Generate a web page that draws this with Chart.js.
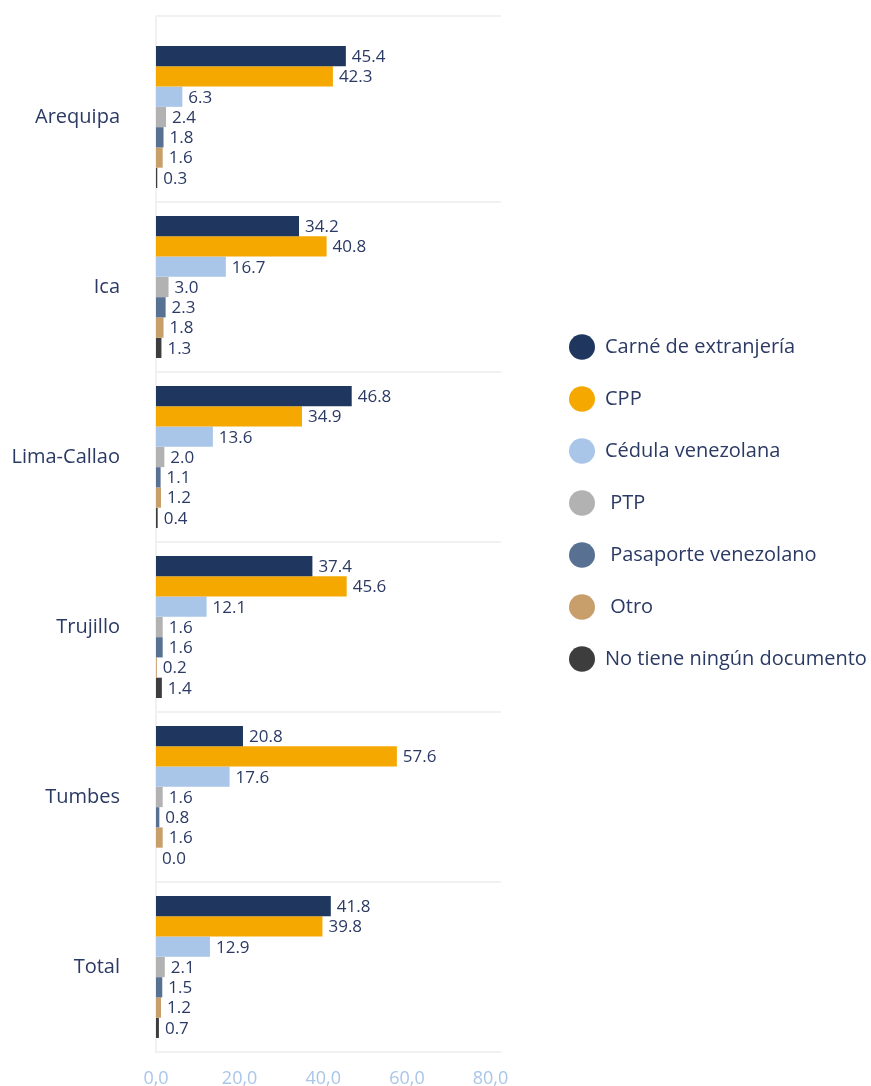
<!DOCTYPE html>
<html lang="es">
<head>
<meta charset="utf-8">
<title>Documento de identidad por ciudad</title>
<script src="https://cdn.jsdelivr.net/npm/chart.js@4.4.1/dist/chart.umd.min.js"></script>
<style>
    html, body { margin: 0; padding: 0; background: #ffffff; }
    #contenedor { width: 871px; height: 1086px; position: relative; }
</style>
</head>
<body>
<div id="contenedor"><canvas id="grafico"></canvas></div>
<script>
// Datos (%) por ciudad
const ciudades = ['Arequipa', 'Ica', 'Lima-Callao', 'Trujillo', 'Tumbes', 'Total'];
const carneExtranjeria = [45.4, 34.2, 46.8, 37.4, 20.8, 41.8];
const cpp = [42.3, 40.8, 34.9, 45.6, 57.6, 39.8];
const cedulaVenezolana = [6.3, 16.7, 13.6, 12.1, 17.6, 12.9];
const ptp = [2.4, 3.0, 2.0, 1.6, 1.6, 2.1];
const pasaporteVenezolano = [1.8, 2.3, 1.1, 1.6, 0.8, 1.5];
const otro = [1.6, 1.8, 1.2, 0.2, 1.6, 1.2];
const sinDocumento = [0.3, 1.3, 0.4, 1.4, 0.0, 0.7];
const ticksX = [0, 20, 40, 60, 80];

const colorTexto = '#2b3a64';
const colorGrilla = '#f1f1f1';
const fuente = 'Open Sans';

// Etiquetas de valor al final de cada barra
const etiquetasValor = {
    id: 'etiquetasValor',
    afterDatasetsDraw(chart) {
        const ctx = chart.ctx;
        ctx.save();
        ctx.font = '17px "' + fuente + '"';
        ctx.fillStyle = colorTexto;
        ctx.textBaseline = 'middle';
        chart.data.datasets.forEach((ds, i) => {
            const meta = chart.getDatasetMeta(i);
            meta.data.forEach((barra, j) => {
                ctx.fillText(ds.data[j].toFixed(1), barra.x + 6, barra.y + 1);
            });
        });
        ctx.restore();
    }
};

// Línea superior del marco (queda por encima del primer grupo)
const marcoSuperior = {
    id: 'marcoSuperior',
    beforeDatasetsDraw(chart) {
        const { ctx, chartArea } = chart;
        ctx.save();
        ctx.strokeStyle = colorGrilla;
        ctx.lineWidth = 2;
        ctx.beginPath();
        ctx.moveTo(chartArea.left, 16);
        ctx.lineTo(chartArea.right, 16);
        ctx.moveTo(chartArea.left, 16);
        ctx.lineTo(chartArea.left, chartArea.top);
        ctx.stroke();
        ctx.restore();
    }
};

// La leyenda ocupa 370px a la derecha y se desplaza hacia el centro
const leyendaDerecha = {
    id: 'leyendaDerecha',
    beforeInit(chart) {
        const leyenda = chart.legend;
        if (!leyenda) return;
        const fitOriginal = leyenda.fit;
        leyenda.fit = function () {
            fitOriginal.call(this);
            this.width = 370;
        };
        const drawOriginal = leyenda.draw;
        leyenda.draw = function () {
            const c = this.ctx;
            c.save();
            c.translate(36, -56);
            drawOriginal.apply(this, arguments);
            c.restore();
        };
    }
};

const series = [
    { label: 'Carné de extranjería', data: carneExtranjeria, color: '#1f365f' },
    { label: 'CPP', data: cpp, color: '#f5a800' },
    { label: 'Cédula venezolana', data: cedulaVenezolana, color: '#a9c6e8' },
    { label: ' PTP', data: ptp, color: '#b2b2b2' },
    { label: ' Pasaporte venezolano', data: pasaporteVenezolano, color: '#587192' },
    { label: ' Otro', data: otro, color: '#c89f6b' },
    { label: 'No tiene ningún documento', data: sinDocumento, color: '#3d3d3d' }
];

new Chart(document.getElementById('grafico'), {
    type: 'bar',
    data: {
        labels: ciudades,
        datasets: series.map(s => ({
            label: s.label,
            data: s.data,
            backgroundColor: s.color,
            borderWidth: 0,
            barPercentage: 1.0,
            categoryPercentage: 0.835
        }))
    },
    options: {
        indexAxis: 'y',
        responsive: true,
        maintainAspectRatio: false,
        animation: false,
        layout: { padding: { top: 32, left: 10, bottom: 0, right: 0 } },
        plugins: {
            legend: {
                position: 'right',
                labels: {
                    usePointStyle: true,
                    pointStyle: 'circle',
                    pointStyleWidth: 26,
                    boxHeight: 18,
                    padding: 32,
                    color: colorTexto,
                    font: { family: fuente, size: 20 }
                }
            },
            tooltip: { enabled: false }
        },
        scales: {
            x: {
                min: 0,
                max: 82.5,
                afterBuildTicks: (eje) => { eje.ticks = ticksX.map(v => ({ value: v })); },
                afterFit: (eje) => { eje.height = 34; },
                grid: { display: false, drawTicks: false },
                border: { display: false },
                ticks: {
                    color: '#a9c6e8',
                    padding: 16,
                    font: { family: fuente, size: 18 },
                    callback: (v) => Number(v).toFixed(1).replace('.', ',')
                }
            },
            y: {
                // ancho fijo del eje y sin márgenes extra arriba/abajo
                afterFit: (eje) => {
                    eje.width = 146;
                    eje.paddingTop = 0;
                    eje.paddingBottom = 0;
                },
                grid: {
                    color: (c) => c.index === 0 ? 'rgba(0,0,0,0)' : colorGrilla,
                    lineWidth: 2,
                    drawTicks: false
                },
                border: { display: true, color: colorGrilla, width: 2 },
                ticks: {
                    color: colorTexto,
                    padding: 36,
                    font: { family: fuente, size: 20 }
                }
            }
        }
    },
    plugins: [etiquetasValor, marcoSuperior, leyendaDerecha]
});
</script>
</body>
</html>
